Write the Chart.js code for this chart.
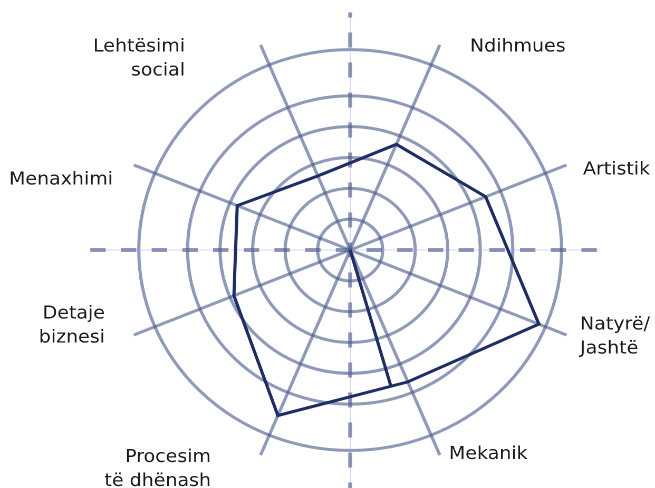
<!DOCTYPE html>
<html>
<head>
<meta charset="utf-8">
<script src="https://cdn.jsdelivr.net/npm/chart.js@4.4.0/dist/chart.umd.min.js"></script>
<style>
  html, body { margin: 0; padding: 0; background: #fff; overflow: hidden; }
  #wrap { width: 621px; height: 488px; transform: scaleX(1.05475); transform-origin: 0 0; }
</style>
</head>
<body>
<div id="wrap"><canvas id="myChart"></canvas></div>
<script>
const categories = [
  ["Ndihmues"],
  ["Artistik"],
  ["Natyrë/", "Jashtë"],
  ["Mekanik"],
  ["Procesim", "të dhënash"],
  ["Detaje", "biznesi"],
  ["Menaxhimi"],
  ["Lehtësimi", "social"],
];
const scores = [3.71, 4.51, 6.28, 4.63, 5.81, 3.87, 3.76, 2.6];
const ringValues = [0, 1, 2, 3, 4, 5, 6.5];
const scaleMax = 7.2;
// the original has a stray stroke from the centre to the Mekanik -> Procesim edge
const strayEdge = { from: 3, to: 4, t: 0.13 };

// the reference is a bit wider than tall, so the canvas gets stretched sideways
const STRETCH = 655 / 621;
const gridColor = "rgba(75, 90, 140, 0.62)";
const lineColor = "#1e2d63";
const labelNudge = [[28.6, 2], [15.6, 5], [12.8, 2], [8.7, -1], [-47, 14], [-27.4, -9], [-19.8, 15], [-71.6, 14]];

const extrasPlugin = {
  id: "extras",
  beforeDatasetsDraw(chart) {
    const r = chart.scales.r;
    const ctx = chart.ctx;
    const cx = r.xCenter, cy = r.yCenter, d = r.drawingArea;
    const top = cy - d * 1.07, bottom = cy + d * 1.1;
    const left = cx - d * 1.11, right = cx + d * 1.068;
    ctx.save();
    ctx.strokeStyle = "rgba(170, 160, 220, 0.45)";
    ctx.lineWidth = 1;
    ctx.beginPath();
    ctx.moveTo(cx, top);
    ctx.lineTo(cx, bottom);
    ctx.moveTo(left, cy);
    ctx.lineTo(right, cy);
    ctx.stroke();

    ctx.strokeStyle = gridColor;
    // vertical dashes, one dash centred on the middle
    ctx.lineWidth = 4 / STRETCH;
    ctx.setLineDash([15, 15]);
    ctx.lineDashOffset = (30 - ((cy - 7.5 - top) % 30)) % 30;
    ctx.beginPath();
    ctx.moveTo(cx, top);
    ctx.lineTo(cx, bottom);
    ctx.stroke();
    // horizontal dashes
    ctx.lineWidth = 4;
    ctx.setLineDash([14.6, 14.5]);
    ctx.lineDashOffset = 0;
    ctx.beginPath();
    ctx.moveTo(left, cy);
    ctx.lineTo(right, cy);
    ctx.stroke();
    ctx.restore();
  },
  afterDatasetsDraw(chart) {
    const r = chart.scales.r;
    const ctx = chart.ctx;
    const pts = chart.getDatasetMeta(0).data;
    const a = pts[strayEdge.from], b = pts[strayEdge.to];
    ctx.save();
    ctx.strokeStyle = lineColor;
    ctx.lineWidth = 3;
    ctx.beginPath();
    ctx.moveTo(r.xCenter, r.yCenter);
    ctx.lineTo(a.x + (b.x - a.x) * strayEdge.t, a.y + (b.y - a.y) * strayEdge.t);
    ctx.stroke();
    ctx.restore();
  },
  afterDraw(chart) {
    const r = chart.scales.r;
    const ctx = chart.ctx;
    ctx.save();
    ctx.font = "18px 'DejaVu Sans'";
    ctx.fillStyle = "#1a1a1a";
    ctx.textBaseline = "middle";
    categories.forEach((lines, i) => {
      const p = r.getPointPosition(i, r.drawingArea);
      const x = p.x + labelNudge[i][0];
      const y = p.y + labelNudge[i][1];
      ctx.textAlign = p.x >= r.xCenter ? "left" : "right";
      lines.forEach((t, j) => {
        ctx.fillText(t, x, y + (j - (lines.length - 1) / 2) * 24);
      });
    });
    ctx.restore();
  },
};

new Chart(document.getElementById("myChart"), {
  type: "radar",
  data: {
    labels: categories,
    datasets: [
      {
        data: scores,
        borderColor: lineColor,
        borderWidth: 3,
        fill: false,
        pointRadius: 0,
        pointHoverRadius: 0,
        tension: 0,
      },
    ],
  },
  options: {
    responsive: true,
    maintainAspectRatio: false,
    devicePixelRatio: 2,
    animation: false,
    events: [],
    layout: { padding: { left: 110, right: 67, top: 28, bottom: 16 } },
    plugins: { legend: { display: false }, tooltip: { enabled: false } },
    scales: {
      r: {
        min: 0,
        max: scaleMax,
        startAngle: 22.5,
        afterBuildTicks: (scale) => {
          scale.ticks = ringValues.map((v) => ({ value: v }));
        },
        ticks: { display: false },
        grid: { circular: true, color: gridColor, lineWidth: 3 },
        angleLines: { color: gridColor, lineWidth: 3 },
        pointLabels: { display: false },
      },
    },
  },
  plugins: [extrasPlugin],
});
</script>
</body>
</html>
